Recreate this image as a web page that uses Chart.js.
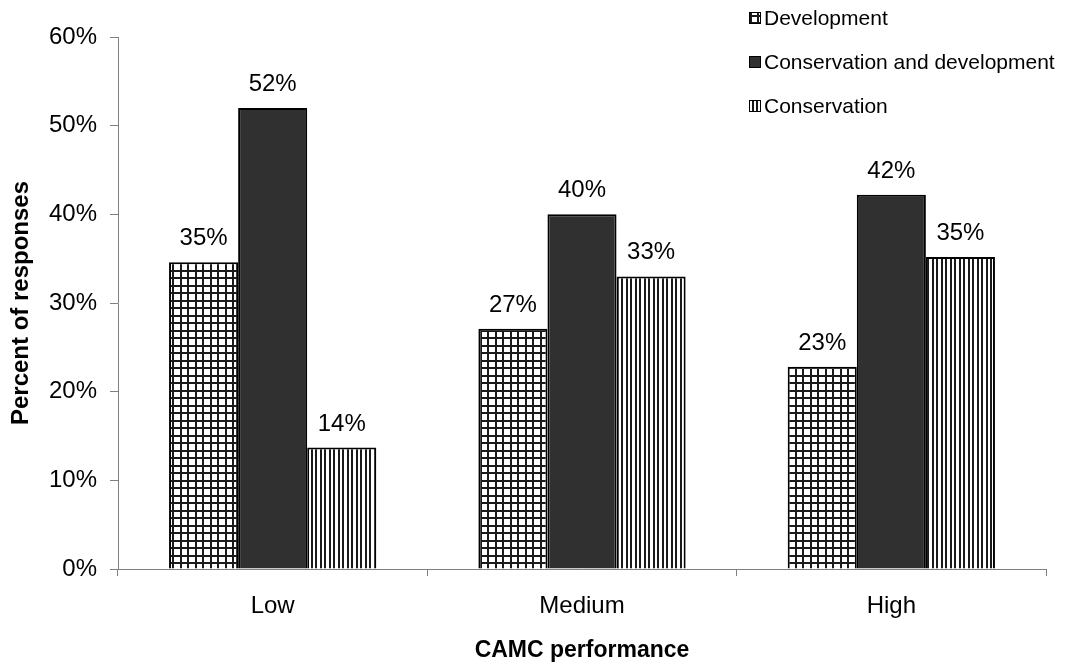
<!DOCTYPE html>
<html>
<head>
<meta charset="utf-8">
<script src="https://cdn.jsdelivr.net/npm/chart.js@4.4.1/dist/chart.umd.min.js"></script>
<style>
  html, body { margin: 0; padding: 0; background: #fff; }
  #wrap { width: 1065px; height: 666px; }
</style>
</head>
<body>
<div id="wrap"><canvas id="c" width="1065" height="666"></canvas></div>
<script>
// Survey results: share of responses per CAMC performance level
const categories = ['Low', 'Medium', 'High'];
const seriesNames = ['Development', 'Conservation and development', 'Conservation'];
const development = [34.6, 27.1, 22.8];
const conservationAndDevelopment = [52.0, 40.0, 42.2];
const conservation = [13.7, 33.0, 35.2];
const yTickValues = [0, 10, 20, 30, 40, 50, 60];

const FONT = "'Liberation Sans', Arial, Helvetica, sans-serif";

// Fill patterns drawn on small tiles
function gridPattern() {
  const t = document.createElement('canvas');
  t.width = 15; t.height = 15;
  const g = t.getContext('2d');
  g.fillStyle = '#ffffff'; g.fillRect(0, 0, 15, 15);
  g.fillStyle = '#1a1a1a';
  g.fillRect(0, 0, 2, 15); g.fillRect(7, 0, 2, 15);
  g.fillRect(0, 0, 15, 2); g.fillRect(0, 7, 15, 2);
  return g.createPattern(t, 'repeat');
}
function stripePattern() {
  const t = document.createElement('canvas');
  t.width = 9; t.height = 9;
  const g = t.getContext('2d');
  g.fillStyle = '#ffffff'; g.fillRect(0, 0, 9, 9);
  g.fillStyle = '#1a1a1a';
  g.fillRect(0, 0, 2, 9); g.fillRect(5, 0, 2, 9);
  return g.createPattern(t, 'repeat');
}
const ctx = document.getElementById('c').getContext('2d');
const fills = [gridPattern(), '#303030', stripePattern()];

// Percentage labels above each bar
const valueLabels = {
  id: 'valueLabels',
  afterDatasetsDraw(chart) {
    const c = chart.ctx;
    c.save();
    c.font = '24px ' + FONT;
    c.fillStyle = '#000';
    c.textAlign = 'center';
    c.textBaseline = 'alphabetic';
    chart.data.datasets.forEach((ds, i) => {
      chart.getDatasetMeta(i).data.forEach((bar, j) => {
        c.fillText(Math.round(ds.data[j]) + '%', bar.x, bar.y - 17);
      });
    });
    c.restore();
  }
};

// Legend in the upper right corner
const cornerLegend = {
  id: 'cornerLegend',
  afterDraw(chart) {
    const c = chart.ctx;
    c.save();
    c.font = '21px ' + FONT;
    c.textAlign = 'left';
    c.textBaseline = 'middle';
    chart.data.datasets.forEach((ds, i) => {
      const y = 18 + i * 44;
      c.fillStyle = ds.backgroundColor;
      c.fillRect(749, y - 6, 12, 12);
      c.strokeStyle = '#000';
      c.lineWidth = 1;
      c.strokeRect(749.5, y - 5.5, 11, 11);
      c.fillStyle = '#000';
      c.fillText(ds.label, 764, y + 1);
    });
    c.restore();
  }
};

new Chart(ctx, {
  type: 'bar',
  data: {
    labels: categories,
    datasets: [
      { label: seriesNames[0], data: development, backgroundColor: fills[0] },
      { label: seriesNames[1], data: conservationAndDevelopment, backgroundColor: fills[1] },
      { label: seriesNames[2], data: conservation, backgroundColor: fills[2] }
    ]
  },
  options: {
    responsive: false,
    animation: false,
    devicePixelRatio: 1,
    layout: { padding: { top: 37, right: 19, bottom: 0, left: 0 } },
    datasets: {
      bar: {
        categoryPercentage: 0.67,
        barPercentage: 1.0,
        borderColor: '#000',
        borderWidth: 2
      }
    },
    plugins: {
      legend: { display: false },
      tooltip: { enabled: false }
    },
    scales: {
      x: {
        afterFit(scale) { scale.height = 97; },
        grid: {
          offset: true,
          drawOnChartArea: false,
          drawTicks: true,
          tickLength: 7,
          color: '#808080'
        },
        border: { display: true, color: '#808080', width: 1 },
        ticks: { color: '#000', font: { family: FONT, size: 24 }, padding: 16 },
        title: {
          display: true,
          text: 'CAMC performance',
          color: '#000',
          font: { family: FONT, size: 23, weight: 'bold' },
          padding: { top: 0, bottom: 2 }
        }
      },
      y: {
        min: 0,
        max: 60,
        afterFit(scale) { scale.width = 118; },
        afterBuildTicks(scale) { scale.ticks = yTickValues.map(v => ({ value: v })); },
        grid: {
          drawOnChartArea: false,
          drawTicks: true,
          tickLength: 8,
          color: '#808080'
        },
        border: { display: true, color: '#808080', width: 1 },
        ticks: {
          color: '#000',
          font: { family: FONT, size: 24 },
          padding: 13,
          callback: v => v + '%'
        },
        title: {
          display: true,
          text: 'Percent of responses',
          color: '#000',
          font: { family: FONT, size: 24, weight: 'bold' },
          padding: { top: 7, bottom: 0 }
        }
      }
    }
  },
  plugins: [valueLabels, cornerLegend]
});
</script>
</body>
</html>
